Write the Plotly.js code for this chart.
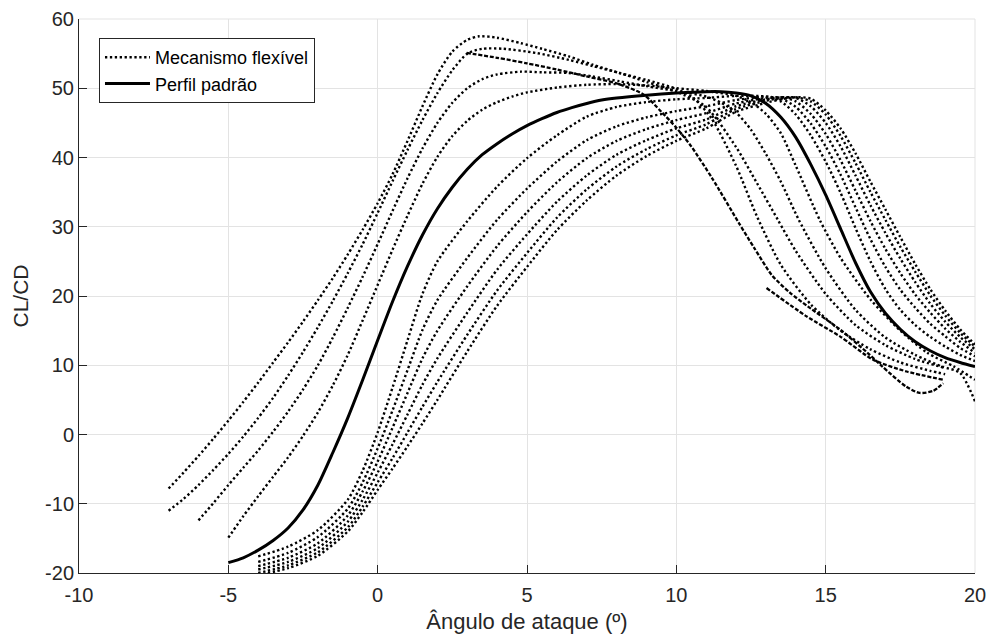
<!DOCTYPE html>
<html>
<head>
<meta charset="utf-8">
<script src="https://cdn.plot.ly/plotly-3.0.1.min.js"></script>
<style>
  html, body { margin: 0; padding: 0; background: #ffffff; }
  #chart { width: 989px; height: 637px; }
</style>
</head>
<body>
<div id="chart"></div>
<script>
// ---------------- DATA ----------------
const legendLabels = ['Mecanismo flexível', 'Perfil padrão'];
const xTitle = 'Ângulo de ataque (º)';
const yTitle = 'CL/CD';
const xTicks = [-10, -5, 0, 5, 10, 15, 20];
const yTicks = [-20, -10, 0, 10, 20, 30, 40, 50, 60];

// Perfil padrão (solid)
const solidX = [-5, -4.5, -4, -3.5, -3, -2.5, -2, -1.5, -1, -0.5, 0, 0.5, 1, 1.5, 2, 2.5, 3, 3.5, 4, 4.5, 5, 5.5, 6, 6.5, 7, 7.5, 8, 9, 10, 11, 11.5, 12, 12.5, 13, 13.5, 14, 14.5, 15, 15.5, 16, 16.5, 17, 17.5, 18, 18.5, 19, 19.5, 20];
const solidY = [-18.5, -17.8, -16.7, -15.3, -13.5, -10.9, -7.3, -2.6, 2.4, 7.9, 13.6, 19.2, 24.3, 28.8, 32.6, 35.7, 38.3, 40.4, 42.0, 43.4, 44.6, 45.6, 46.5, 47.2, 47.8, 48.3, 48.6, 49.0, 49.3, 49.5, 49.5, 49.3, 48.9, 47.8, 45.8, 42.9, 39.0, 34.6, 29.7, 24.8, 20.6, 17.5, 15.2, 13.4, 12.1, 11.1, 10.4, 9.8];

// Mecanismo flexível – curves shifted to the left
const flexAX = [-7, -6.5, -6, -5.5, -5, -4.5, -4, -3.5, -3, -2.5, -2, -1.5, -1, -0.5, 0, 0.5, 1, 1.5, 2, 2.5, 3, 3.4, 4, 4.8, 5.5, 6.4, 7.2, 8.1, 9, 10, 10.6, 11.2, 12, 12.7, 13.5, 14.5, 15.5, 16.5, 17.5, 18.5, 19];
const flexAY = [-7.8, -5.5, -3.1, -0.6, 2.0, 4.7, 7.5, 10.4, 13.3, 16.3, 19.4, 22.6, 26.0, 29.6, 33.4, 37.6, 42.4, 47.4, 52.0, 55.3, 57.0, 57.5, 57.3, 56.5, 55.7, 54.6, 53.4, 52.2, 51.2, 49.9, 48.5, 45.5, 38.8, 31.5, 24.5, 18.8, 15.0, 12.3, 10.4, 9.2, 8.7];

const flexBX = [-7, -6.5, -6, -5.5, -5, -4.5, -4, -3.5, -3, -2.5, -2, -1.5, -1, -0.5, 0, 0.5, 1, 1.5, 2, 2.5, 3, 3.5, 4.2, 5.3, 6.4, 7.2, 8.1, 9, 10, 11, 12, 12.7, 13.4, 14, 15, 16, 17, 18, 19];
const flexBY = [-11.0, -9.3, -7.3, -5.1, -2.8, -0.3, 2.4, 5.3, 8.5, 11.9, 15.5, 19.3, 23.3, 27.5, 32.0, 36.6, 41.1, 45.4, 49.3, 52.6, 55.0, 55.7, 55.7, 55.1, 54.1, 53.2, 52.2, 50.9, 49.5, 47.3, 41.5, 36.3, 31.0, 26.5, 20.3, 15.8, 12.9, 10.9, 9.6];

const flexCX = [-6, -5.5, -5, -4.5, -4, -3.5, -3, -2.5, -2, -1.5, -1, -0.5, 0, 0.5, 1, 1.5, 2, 2.5, 3, 3.5, 4, 4.8, 5.5, 6.4, 7.2, 8.1, 9, 10, 11, 11.5, 12, 12.5, 13, 13.5, 14.1, 15, 16, 17, 18, 18.9, 19.5, 20];
const flexCY = [-12.4, -9.9, -7.3, -4.8, -2.3, 0.4, 3.3, 6.5, 10.0, 14.0, 18.3, 22.8, 27.5, 32.3, 37.0, 41.3, 45.0, 47.9, 50.0, 51.3, 52.0, 52.4, 52.3, 52.2, 51.7, 51.0, 50.3, 49.6, 48.8, 47.9, 46.5, 44.0, 40.5, 36.5, 31.0, 24.0, 18.0, 14.0, 11.5, 9.8, 8.9, 4.8];

const flexDX = [-5, -4.5, -4, -3.5, -3, -2.5, -2, -1.5, -1, -0.5, 0, 0.5, 1, 1.5, 2, 2.5, 3, 3.5, 4, 4.5, 5, 6, 7, 8, 9, 10, 11, 12, 12.5, 13, 13.5, 14, 14.8, 15.5, 16.5, 17.5, 18.4, 19.3, 20];
const flexDY = [-14.9, -11.8, -8.9, -6.1, -3.3, -0.2, 3.2, 7.1, 11.5, 16.5, 21.6, 26.7, 31.6, 36.2, 40.1, 43.1, 45.3, 46.9, 48.0, 48.8, 49.4, 50.1, 50.5, 50.6, 50.4, 50.0, 49.6, 48.9, 48.0, 46.3, 43.5, 38.8, 31.0, 25.5, 19.5, 15.0, 11.8, 9.8, 7.9];

// branch leaving the corner near 3° (dashed look)
const flexL1X = [2.98, 4, 5, 6, 7, 8, 8.9, 9.5, 10, 10.5, 11.2, 12.1, 12.6, 13.2, 13.8, 14.4, 15.5, 16.4, 16.9, 17.7, 18.15, 18.6, 18.94];
const flexL1Y = [55.1, 54.4, 53.6, 52.7, 51.7, 50.7, 49.1, 46.6, 44.3, 41.6, 37.0, 30.5, 27.0, 23.0, 20.5, 18.5, 15.1, 11.8, 9.8, 6.9, 6.0, 6.3, 7.4];
const flexL2X = [13.02, 14.36, 15.48, 16.59, 17.71, 18.94];
const flexL2Y = [21.15, 17.06, 14.17, 10.8, 9.1, 7.9];

// Mecanismo flexível – curves shifted to the right (common angle grid)
const rightX = [-4, -3, -2, -1, -0.5, 0, 0.5, 1, 1.5, 2, 3, 4, 5, 6, 7, 8, 9, 10, 11, 12, 13, 13.5, 14, 14.5, 15, 15.5, 16, 16.5, 17, 17.5, 18, 18.5, 19, 19.5, 20];
const flexR1Y = [-17.6, -16.2, -13.8, -9.4, -5.2, 0.3, 6.8, 13.6, 20.3, 25.0, 30.8, 35.8, 39.9, 43.2, 45.9, 47.3, 48.0, 48.4, 48.6, 48.9, 48.8, 48.1, 46.2, 43.2, 39.4, 34.9, 29.8, 25.0, 21.0, 18.0, 15.8, 14.1, 12.7, 11.5, 10.6];
const flexR2Y = [-18.4, -17.1, -14.8, -10.7, -6.9, -2.0, 3.5, 9.3, 15.1, 19.4, 25.5, 31.0, 35.5, 39.4, 42.5, 44.5, 45.8, 46.7, 47.4, 48.3, 48.8, 48.5, 47.3, 44.9, 41.6, 37.5, 32.8, 28.2, 24.2, 20.9, 18.3, 16.0, 14.2, 12.5, 11.3];
const flexR3Y = [-19.0, -17.8, -15.7, -11.7, -8.2, -3.9, 1.0, 6.0, 11.0, 15.0, 21.4, 27.2, 32.1, 36.4, 39.9, 42.4, 44.1, 45.4, 46.4, 47.8, 48.6, 48.7, 48.1, 46.3, 43.4, 39.6, 35.2, 30.8, 26.8, 23.3, 20.2, 17.6, 15.3, 13.4, 11.8];
const flexR4Y = [-19.5, -18.4, -16.4, -12.6, -9.4, -5.5, -1.4, 2.9, 7.2, 11.0, 17.6, 23.8, 28.9, 33.6, 37.4, 40.4, 42.5, 44.2, 45.5, 47.4, 48.4, 48.7, 48.6, 47.4, 45.0, 41.6, 37.4, 33.1, 29.1, 25.4, 22.0, 18.9, 16.3, 14.1, 12.3];
const flexR5Y = [-20.0, -18.9, -17.0, -13.4, -10.4, -6.9, -3.4, 0.3, 4.0, 7.6, 14.4, 20.8, 26.2, 31.3, 35.4, 38.7, 41.2, 43.2, 44.8, 47.0, 48.2, 48.6, 48.7, 48.1, 46.2, 43.1, 39.2, 35.0, 31.0, 27.1, 23.5, 20.1, 17.2, 14.7, 12.7];
const flexR6Y = [-20.3, -19.3, -17.5, -14.0, -11.2, -8.0, -4.9, -1.7, 1.6, 5.0, 12.0, 18.6, 24.2, 29.5, 33.8, 37.4, 40.2, 42.4, 44.2, 46.6, 47.9, 48.4, 48.7, 48.5, 46.8, 44.2, 40.6, 36.5, 32.5, 28.5, 24.6, 21.0, 17.9, 15.2, 13.0];

// ---------------- STYLE ----------------
const FONT = '"Liberation Sans", Arial, Helvetica, sans-serif';
const TXT = '#262626';
const dotLine = { color: '#000000', width: 2.4, dash: '2.3px,2.6px', shape: 'spline', smoothing: 0.7 };
const dashLine = { color: '#000000', width: 2.3, dash: '4px,1.8px', shape: 'spline', smoothing: 0.7 };

const flexCurves = [
  [flexAX, flexAY, dotLine],
  [flexBX, flexBY, dotLine],
  [flexCX, flexCY, dotLine],
  [flexDX, flexDY, dotLine],
  [flexL1X, flexL1Y, dashLine],
  [flexL2X, flexL2Y, dashLine],
  [rightX, flexR1Y, dotLine],
  [rightX, flexR2Y, dotLine],
  [rightX, flexR3Y, dotLine],
  [rightX, flexR4Y, dotLine],
  [rightX, flexR5Y, dotLine],
  [rightX, flexR6Y, dotLine]
];

const traces = flexCurves.map((c, i) => ({
  type: 'scatter', mode: 'lines',
  x: c[0], y: c[1],
  name: legendLabels[0],
  legendgroup: 'flex',
  showlegend: i === 0,
  line: c[2],
  hoverinfo: 'skip'
}));

traces.push({
  type: 'scatter', mode: 'lines',
  x: solidX, y: solidY,
  name: legendLabels[1],
  legendgroup: 'std',
  line: { color: '#000000', width: 3, shape: 'spline', smoothing: 0.7 },
  hoverinfo: 'skip'
});

const axisCommon = {
  showline: true, linecolor: TXT, linewidth: 1,
  ticks: 'inside', ticklen: 8, tickwidth: 1, tickcolor: TXT,
  showgrid: true, gridcolor: '#e3e3e3', gridwidth: 1,
  zeroline: false,
  tickfont: { family: FONT, size: 20, color: TXT },
  fixedrange: true
};

const layout = {
  width: 989, height: 637,
  margin: { l: 79, r: 14, t: 19, b: 64 },
  paper_bgcolor: '#ffffff', plot_bgcolor: '#ffffff',
  font: { family: FONT, color: TXT },
  showlegend: true,
  legend: {
    x: 0.0223, y: 0.9657, xanchor: 'left', yanchor: 'top',
    bgcolor: '#ffffff', bordercolor: TXT, borderwidth: 1,
    font: { family: FONT, size: 18, color: '#000000' },
    itemwidth: 45,
    tracegroupgap: 0
  },
  xaxis: Object.assign({}, axisCommon, {
    range: [-10, 20], tickvals: xTicks, ticktext: xTicks.map(String),
    ticklabelstandoff: 4,
    title: { text: xTitle, font: { family: FONT, size: 22, color: TXT }, standoff: 8 }
  }),
  yaxis: Object.assign({}, axisCommon, {
    range: [-20, 60], tickvals: yTicks, ticktext: yTicks.map(String),
    title: { text: yTitle, font: { family: FONT, size: 21, color: TXT }, standoff: 10 }
  }),
  shapes: [
    { type: 'line', xref: 'paper', yref: 'paper', x0: 0, x1: 1, y0: 1, y1: 1, line: { color: '#e3e3e3', width: 1 }, layer: 'below' },
    { type: 'line', xref: 'paper', yref: 'paper', x0: 1, x1: 1, y0: 0, y1: 1, line: { color: '#e3e3e3', width: 1 }, layer: 'below' }
  ]
};

Plotly.newPlot('chart', traces, layout, { displayModeBar: false, staticPlot: true });
</script>
</body>
</html>
